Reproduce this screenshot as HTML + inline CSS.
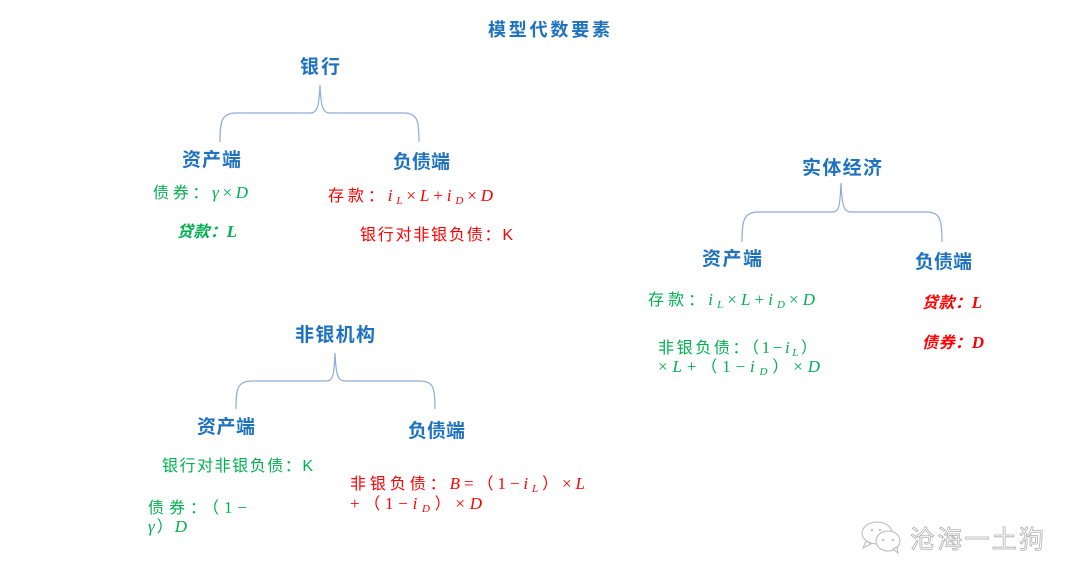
<!DOCTYPE html>
<html><head><meta charset="utf-8"><style>
html,body{margin:0;padding:0;background:#fff;}
svg{display:block;}
.h{font-family:"Liberation Sans","Noto Sans CJK SC",sans-serif;font-weight:bold;fill:#1f72bf;}
.t{font-family:"Liberation Sans","Noto Sans CJK SC",sans-serif;font-size:16px;}
.g{fill:#00b050;}
.r{fill:#ff0000;}
.m{font-family:"Liberation Serif",serif;font-style:italic;font-size:17px;}
.o{font-family:"Liberation Serif",serif;font-size:17px;}
.s{font-family:"Liberation Serif",serif;font-style:italic;font-size:11px;}
.bi{font-weight:bold;font-style:italic;}
.br{fill:none;stroke:#8faadc;stroke-width:1.2;}
</style></head><body>
<svg width="1080" height="585" viewBox="0 0 1080 585" xmlns="http://www.w3.org/2000/svg">
<!-- title -->
<text class="h" x="488" y="36" font-size="18" textLength="122" lengthAdjust="spacing">模型代数要素</text>

<!-- Bank -->
<text class="h" x="300" y="73" font-size="19" textLength="40" lengthAdjust="spacing">银行</text>
<path class="br" d="M220,142 C220,122 221,113 236,113 L310,113 C317,113 319,108 320,85 C321,108 323,113 330,113 L404,113 C418,113 419,122 419,142"/>
<text class="h" x="182" y="166" font-size="19" textLength="59" lengthAdjust="spacing">资产端</text>
<text class="h" x="393" y="168" font-size="19" textLength="57" lengthAdjust="spacing">负债端</text>
<text class="t g" x="153" y="198" textLength="95" lengthAdjust="spacing">债券：<tspan class="m">γ</tspan><tspan class="o">×</tspan><tspan class="m">D</tspan></text>
<text class="t g bi" x="177" y="237" textLength="60" lengthAdjust="spacing">贷款：<tspan class="m" font-weight="bold">L</tspan></text>
<text class="t r" x="328" y="201" textLength="165" lengthAdjust="spacing">存款：<tspan class="m">i</tspan><tspan class="s" dy="3">L</tspan><tspan class="o" dy="-3">×</tspan><tspan class="m">L</tspan><tspan class="o">+</tspan><tspan class="m">i</tspan><tspan class="s" dy="3">D</tspan><tspan class="o" dy="-3">×</tspan><tspan class="m">D</tspan></text>
<text class="t r" x="360" y="240" textLength="153" lengthAdjust="spacing">银行对非银负债：K</text>

<!-- Real economy -->
<text class="h" x="802" y="174" font-size="19" textLength="80" lengthAdjust="spacing">实体经济</text>
<path class="br" d="M742,242 C742,222 743,212 758,212 L832,212 C839,212 840,207 841,183 C842,207 844,212 851,212 L927,212 C941,212 942,222 942,242"/>
<text class="h" x="702" y="265" font-size="19" textLength="60" lengthAdjust="spacing">资产端</text>
<text class="h" x="915" y="268" font-size="19" textLength="57" lengthAdjust="spacing">负债端</text>
<text class="t g" x="648" y="305" textLength="167" lengthAdjust="spacing">存款：<tspan class="m">i</tspan><tspan class="s" dy="3">L</tspan><tspan class="o" dy="-3">×</tspan><tspan class="m">L</tspan><tspan class="o">+</tspan><tspan class="m">i</tspan><tspan class="s" dy="3">D</tspan><tspan class="o" dy="-3">×</tspan><tspan class="m">D</tspan></text>
<text class="t g" x="658" y="353" textLength="159" lengthAdjust="spacing">非银负债：（<tspan class="o">1−</tspan><tspan class="m">i</tspan><tspan class="s" dy="3">L</tspan><tspan dy="-3">）</tspan></text>
<text class="t g" x="658" y="372" textLength="162" lengthAdjust="spacing"><tspan class="o">×</tspan><tspan class="m">L</tspan><tspan class="o">+</tspan>（<tspan class="o">1−</tspan><tspan class="m">i</tspan><tspan class="s" dy="3">D</tspan><tspan dy="-3">）</tspan><tspan class="o">×</tspan><tspan class="m">D</tspan></text>
<text class="t r bi" x="922" y="308" textLength="60" lengthAdjust="spacing">贷款：<tspan class="m" font-weight="bold">L</tspan></text>
<text class="t r bi" x="922" y="348" textLength="62" lengthAdjust="spacing">债券：<tspan class="m" font-weight="bold">D</tspan></text>

<!-- Non-bank -->
<text class="h" x="295" y="341" font-size="19" textLength="80" lengthAdjust="spacing">非银机构</text>
<path class="br" d="M236,409 C236,389 237,381 252,381 L326,381 C333,381 334,376 335,353 C336,376 338,381 345,381 L420,381 C434,381 435,389 435,409"/>
<text class="h" x="197" y="433" font-size="19" textLength="58" lengthAdjust="spacing">资产端</text>
<text class="h" x="408" y="437" font-size="19" textLength="57" lengthAdjust="spacing">负债端</text>
<text class="t g" x="162" y="471" textLength="151" lengthAdjust="spacing">银行对非银负债：K</text>
<text class="t g" x="148" y="513" textLength="99" lengthAdjust="spacing">债券：（<tspan class="o">1−</tspan></text>
<text class="t g" x="148" y="532" textLength="39" lengthAdjust="spacing"><tspan class="m">γ</tspan>）<tspan class="m">D</tspan></text>
<text class="t r" x="350" y="489" textLength="235" lengthAdjust="spacing">非银负债：<tspan class="m">B</tspan><tspan class="o">=</tspan>（<tspan class="o">1−</tspan><tspan class="m">i</tspan><tspan class="s" dy="3">L</tspan><tspan dy="-3">）</tspan><tspan class="o">×</tspan><tspan class="m">L</tspan></text>
<text class="t r" x="350" y="509" textLength="132" lengthAdjust="spacing"><tspan class="o">+</tspan>（<tspan class="o">1−</tspan><tspan class="m">i</tspan><tspan class="s" dy="3">D</tspan><tspan dy="-3">）</tspan><tspan class="o">×</tspan><tspan class="m">D</tspan></text>

<!-- watermark -->
<g fill="#fff" stroke="#b8b8b8" stroke-width="1">
  <ellipse cx="877" cy="533" rx="15" ry="11"/>
  <path d="M866,541 l-3,7 l8,-4 z"/>
  <ellipse cx="888" cy="541" rx="12" ry="10"/>
  <path d="M893,549 l5,4 l-1,-6 z"/>
</g>
<g fill="#c8c8c8">
  <circle cx="872" cy="530" r="1.3"/><circle cx="880" cy="530" r="1.3"/>
  <circle cx="883" cy="540" r="1.3"/><circle cx="893" cy="540" r="1.3"/>
</g>
<text x="910" y="548" font-family="'Liberation Sans','Noto Sans CJK SC',sans-serif" font-size="25" fill="#ffffff" stroke="#b0b0b0" stroke-width="0.8" textLength="134" lengthAdjust="spacing">沧海一土狗</text>
</svg>
</body></html>
